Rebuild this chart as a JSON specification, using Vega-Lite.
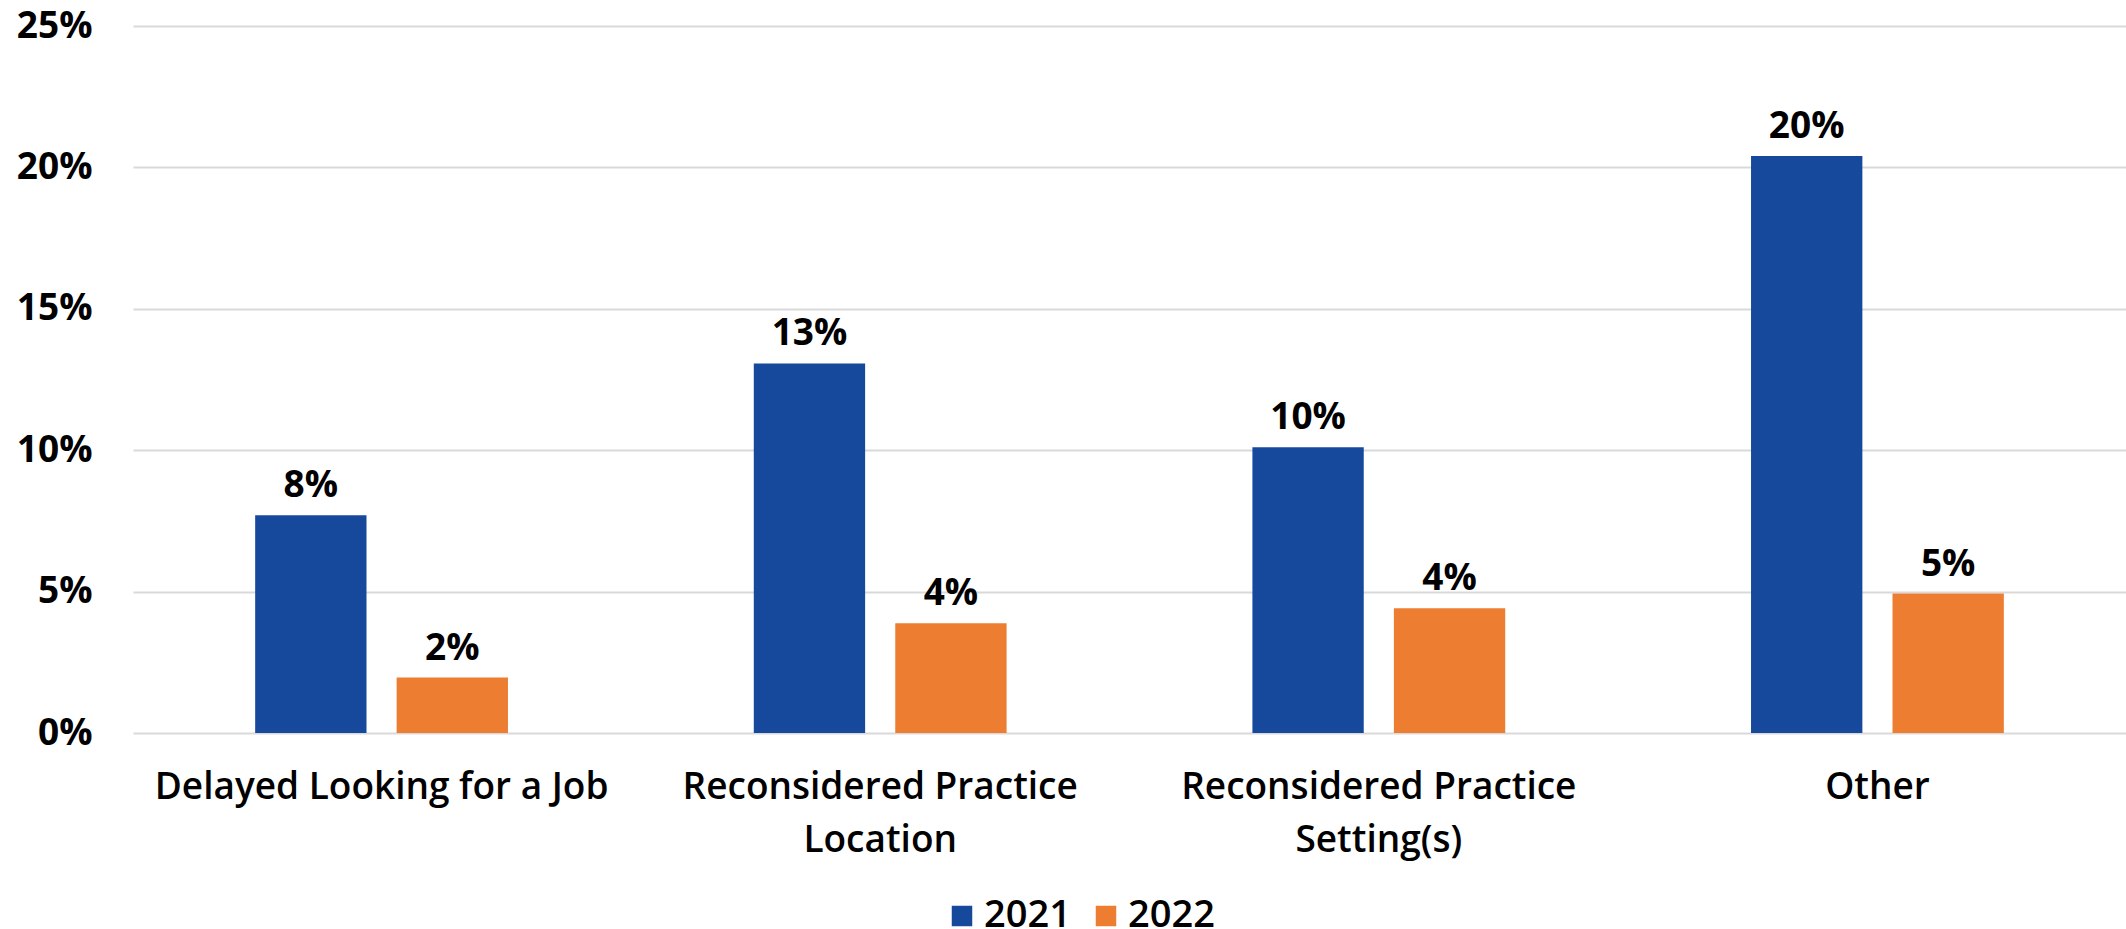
{
  "$schema": "https://vega.github.io/schema/vega-lite/v6.json",
  "autosize": "none",
  "width": 1993,
  "height": 707,
  "padding": {"left": 133, "top": 26, "right": 0, "bottom": 196},
  "background": "white",
  "config": {
    "font": "Open Sans",
    "view": {"stroke": null}
  },
  "data": {
    "values": [
      {"category": "Delayed Looking for a Job", "year": "2021", "value": 0.077},
      {"category": "Delayed Looking for a Job", "year": "2022", "value": 0.0196},
      {"category": "Reconsidered Practice Location", "year": "2021", "value": 0.1307},
      {"category": "Reconsidered Practice Location", "year": "2022", "value": 0.0388},
      {"category": "Reconsidered Practice Setting(s)", "year": "2021", "value": 0.101},
      {"category": "Reconsidered Practice Setting(s)", "year": "2022", "value": 0.0441},
      {"category": "Other", "year": "2021", "value": 0.204},
      {"category": "Other", "year": "2022", "value": 0.0493}
    ]
  },
  "encoding": {
    "x": {
      "field": "category",
      "type": "nominal",
      "sort": null,
      "title": null,
      "scale": {"paddingInner": 0.493, "paddingOuter": 0.245},
      "axis": {
        "labelAngle": 0,
        "domain": false,
        "ticks": false,
        "labelFont": "Open Sans",
        "labelFontSize": 37,
        "labelFontWeight": 600,
        "labelColor": "#000000",
        "labelPadding": 36,
        "labelLineHeight": 53,
        "labelLimit": 600,
        "labelExpr": "datum.value == 'Reconsidered Practice Location' ? ['Reconsidered Practice', 'Location'] : datum.value == 'Reconsidered Practice Setting(s)' ? ['Reconsidered Practice', 'Setting(s)'] : datum.value"
      }
    },
    "xOffset": {
      "field": "year",
      "type": "nominal",
      "scale": {"paddingInner": 0.213, "paddingOuter": 0}
    },
    "y": {
      "field": "value",
      "type": "quantitative",
      "title": null,
      "scale": {"domain": [0, 0.25], "nice": false},
      "axis": {
        "values": [0, 0.05, 0.1, 0.15, 0.2, 0.25],
        "format": ".0%",
        "domain": false,
        "ticks": false,
        "grid": true,
        "gridColor": "#d9d9d9",
        "gridWidth": 2,
        "labelFont": "Open Sans",
        "labelFontSize": 37,
        "labelFontWeight": 700,
        "labelColor": "#000000",
        "labelPadding": 41
      }
    }
  },
  "layer": [
    {
      "mark": {"type": "bar"},
      "encoding": {
        "color": {
          "field": "year",
          "type": "nominal",
          "title": null,
          "scale": {"domain": ["2021", "2022"], "range": ["#16489C", "#ED7D31"]},
          "legend": {
            "orient": "none",
            "legendX": 810,
            "legendY": 871,
            "direction": "horizontal",
            "symbolType": "square",
            "symbolSize": 420,
            "symbolStrokeWidth": 0,
            "labelFont": "Open Sans",
            "labelFontSize": 38,
            "labelFontWeight": 600,
            "labelColor": "#000000",
            "labelOffset": 3,
            "columnPadding": 16
          }
        }
      }
    },
    {
      "mark": {"type": "text", "baseline": "alphabetic", "dy": -18, "font": "Open Sans", "fontSize": 37, "fontWeight": 700, "color": "#000000"},
      "encoding": {
        "text": {"field": "value", "type": "quantitative", "format": ".0%"}
      }
    }
  ]
}
